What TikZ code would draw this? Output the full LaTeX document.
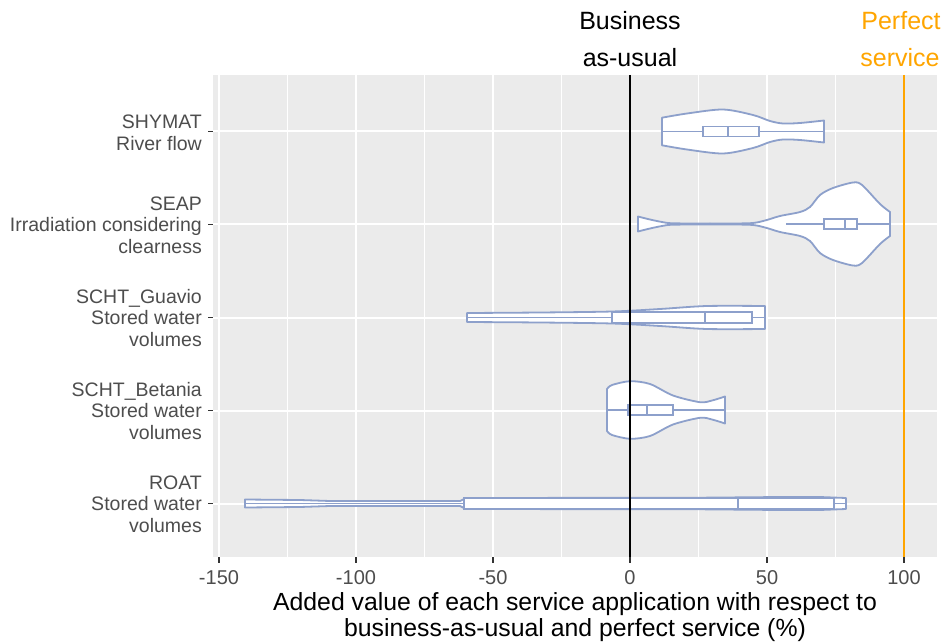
\documentclass[tikz,border=0pt]{standalone}
\usepackage{fontspec}
\setmainfont{Liberation Sans}
\definecolor{vblue}{HTML}{8DA0CB}
\definecolor{panelbg}{HTML}{EBEBEB}
\definecolor{txtgrey}{HTML}{4D4D4D}
\definecolor{tickc}{HTML}{333333}
\definecolor{orangeline}{HTML}{FFA500}
\begin{document}
\begin{tikzpicture}[x=1pt,y=-1pt,
  vio/.style={draw=vblue, line width=1.8pt, fill=white, line join=round},
  boxs/.style={draw=vblue, line width=1.8pt, fill=white},
  wline/.style={draw=vblue, line width=1.8pt},
  majgrid/.style={draw=white, line width=2pt},
  mingrid/.style={draw=white, line width=1pt},
  tickmark/.style={draw=tickc, line width=1.5pt},
  catlab/.style={anchor=east, align=right, text=txtgrey, font=\fontsize{19.5}{21.5}\selectfont, inner sep=0pt},
  ticklab/.style={text=txtgrey, font=\fontsize{20}{22}\selectfont, inner sep=0pt},
  axtitle/.style={align=center, text=black, font=\fontsize{24.8}{25.5}\selectfont, inner sep=0pt},
  toplab/.style={font=\fontsize{25}{27}\selectfont, inner sep=0pt}]
\useasboundingbox (0,0) rectangle (949,644);
% panel
\fill[panelbg] (213,75) rectangle (937,557);
\foreach \v in {-125,-75,-25,25,75} \draw[mingrid] ({630+2.74*\v},75) -- ({630+2.74*\v},557);
\foreach \v in {-150,-100,-50,50} \draw[majgrid] ({630+2.74*\v},75) -- ({630+2.74*\v},557);
\foreach \y in {131.5,224.5,317.5,410.5,503.5} \draw[majgrid] (213,\y) -- (937,\y);
% SHYMAT
\begin{scope}[shift={(0,131.5)}]
\draw[vio] plot[smooth] coordinates{(662,-13.8)(687,-18)(723,-22)(753,-16.5)(770,-10.5)(783,-8)(800,-8.5)(824,-11)}
  -- plot[smooth] coordinates{(824,11)(800,8.5)(783,8)(770,10.5)(753,16.5)(723,22)(687,18)(662,13.8)} -- cycle;
\draw[wline] (662,0) -- (824,0);
\draw[boxs] (703,-5) rectangle (759,5);
\draw[wline] (728,-5) -- (728,5);
\end{scope}
% SEAP
\begin{scope}[shift={(0,224)}]
\draw[vio] plot[smooth] coordinates{(638,-7.5)(650,-4.5)(662,-2)(673,-0.7)(710,-0.6)(750,-0.8)(765,-3.5)(780,-8)(800,-12)(810,-17)(820,-29)(833,-36)(853,-41.5)(862,-39)(880,-20)(890,-12)}
  -- plot[smooth] coordinates{(890,12)(880,20)(862,39)(853,41.5)(833,36)(820,29)(810,17)(800,12)(780,8)(765,3.5)(750,0.8)(710,0.6)(673,0.7)(662,2)(650,4.5)(638,7.5)} -- cycle;
\draw[wline] (786,0) -- (890,0);
\draw[boxs] (824,-5) rectangle (857,5);
\draw[wline] (845,-5) -- (845,5);
\end{scope}
% SCHT_Guavio
\begin{scope}[shift={(0,317.5)}]
\draw[vio] plot[smooth] coordinates{(467,-4.5)(540,-5)(612,-6)(660,-8.5)(707,-11.5)(765,-11.5)}
  -- plot[smooth] coordinates{(765,11.5)(707,11.5)(660,8.5)(612,6)(540,5)(467,4.5)} -- cycle;
\draw[wline] (467,0) -- (765,0);
\draw[boxs] (612,-5.3) rectangle (752,5.3);
\draw[wline] (705,-5.3) -- (705,5.3);
\end{scope}
% SCHT_Betania
\begin{scope}[shift={(0,410)}]
\draw[vio] plot[smooth] coordinates{(607,-21)(612,-25)(630,-28.8)(650,-26)(673,-14.5)(700,-7.8)(712,-9.5)(725,-13.5)}
  -- plot[smooth] coordinates{(725,13.5)(712,9.5)(700,7.8)(673,14.5)(650,26)(630,28.8)(612,25)(607,21)} -- cycle;
\draw[wline] (607,0) -- (725,0);
\draw[boxs] (628,-5) rectangle (673,5);
\draw[wline] (647,-5) -- (647,5);
\end{scope}
% ROAT
\begin{scope}[shift={(0,503.5)}]
\draw[vio] (245,-4) -- (300,-3.5) -- (330,-2.5) -- (460,-2.5) -- (466,-5.5) -- (700,-5.8) -- (780,-6.5) -- (820,-6.5) -- (846,-5.5)
  -- (846,5.5) -- (820,6.5) -- (780,6.5) -- (700,5.8) -- (466,5.5) -- (460,2.5) -- (330,2.5) -- (300,3.5) -- (245,4) -- cycle;
\draw[wline] (245,0) -- (846,0);
\draw[boxs] (464,-5.5) rectangle (834,5.5);
\draw[wline] (738,-5.5) -- (738,5.5);
\end{scope}
% reference lines
\draw[black, line width=2pt] (630,75) -- (630,557);
\draw[orangeline, line width=2pt] (904,75) -- (904,557);
% ticks
\foreach \y in {131.5,224.5,317.5,410.5,503.5} \draw[tickmark] (208,\y) -- (213,\y);
\foreach \v in {-150,-100,-50,0,50,100} {
  \draw[tickmark] ({630+2.74*\v},557) -- ({630+2.74*\v},563);
  \node[ticklab] (t\v) at ({630+2.74*\v},578) {\v};
}
% category labels
\node[catlab] (c1) at (202,133) {SHYMAT\\River flow};
\node[catlab] (c2) at (202,225) {SEAP\\Irradiation considering\\clearness};
\node[catlab] (c3) at (202,318) {SCHT\_Guavio\\Stored water\\volumes};
\node[catlab] (c4) at (202,411) {SCHT\_Betania\\Stored water\\volumes};
\node[catlab] (c5) at (202,504) {ROAT\\Stored water\\volumes};
% axis title
\node[axtitle] (xt) at (575,617) {Added value of each service application with respect to\\business-as-usual and perfect service (\%)};
% top labels
\node[toplab, text=black] (b1) at (630,21) {Business};
\node[toplab, text=black] (b2) at (630,58) {as-usual};
\node[toplab, text=orangeline] (p1) at (901,21) {Perfect};
\node[toplab, text=orangeline] (p2) at (900,58) {service};
\end{tikzpicture}
\end{document}
